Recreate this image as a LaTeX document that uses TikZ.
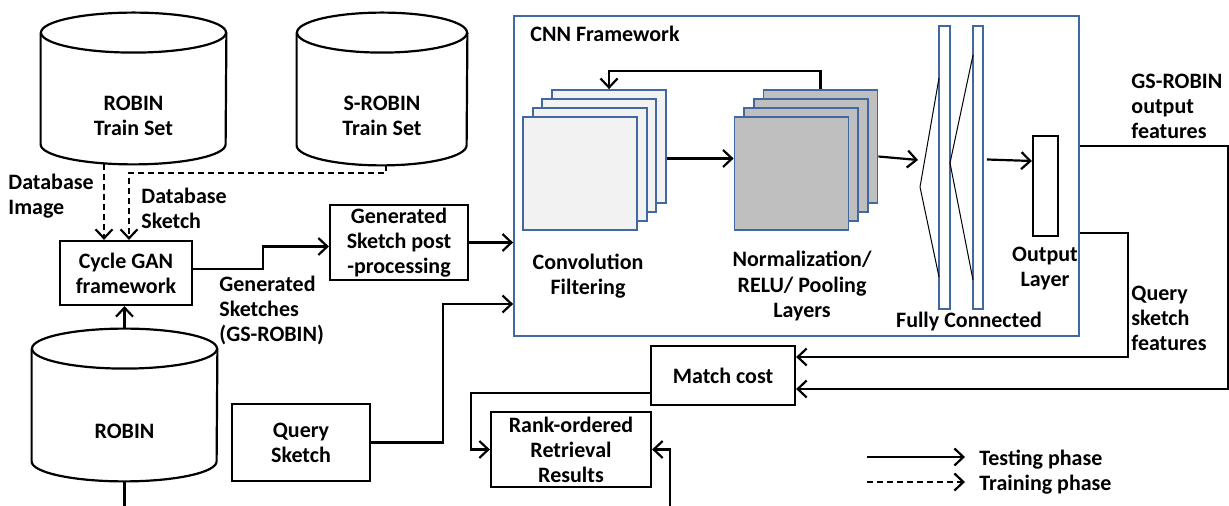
\documentclass[tikz,border=0pt]{standalone}
\usepackage{fontspec}
\setmainfont{Carlito}
\usetikzlibrary{arrows.meta}
\definecolor{cnnblue}{RGB}{65,105,160}
\definecolor{convfill}{RGB}{242,242,242}
\definecolor{normfill}{RGB}{191,191,191}
\newcommand{\dbshape}[3]{%
  \draw[wire] ([yshift=#3]#1.north west) -- ([yshift=10pt]#1.south west)
    arc[start angle=180, end angle=360, x radius=#2, y radius=10pt]
    -- ([yshift=#3]#1.north east);
  \draw[wire] ([yshift=#3]#1.north) ellipse [x radius=#2, y radius=10pt];
}

\begin{document}
\begin{tikzpicture}[x=0.5pt, y=-0.5pt, >={Straight Barb[length=4.5pt,width=8.5pt]},
  every node/.style={font=\bfseries\fontsize{11}{12.5}\selectfont, align=center},
  wire/.style={line width=1.1pt},
  arr/.style={line width=1.1pt, ->},
  dasharr/.style={arr, dash pattern=on 3pt off 2pt},
  box/.style={draw, line width=1.1pt, inner sep=0pt},
  dbtext/.style={inner sep=0pt},
  fmap/.style={draw=cnnblue, line width=0.9pt, minimum width=57pt, minimum height=56.5pt, inner sep=0pt},
  fc/.style={draw=cnnblue, line width=0.9pt, minimum height=141.5pt, inner sep=0pt},
  funnel/.style={line width=0.5pt}]
\useasboundingbox (0,0) rectangle (1229,506);

\node[dbtext, minimum width=92.5pt, minimum height=48.5pt] (robtrain) at (133.5,115.5) {ROBIN\\Train Set};
\dbshape{robtrain}{46.25pt}{17pt}
\node[dbtext, minimum width=85pt, minimum height=49.5pt] (srobtrain) at (382,115.5) {S-ROBIN\\Train Set};
\dbshape{srobtrain}{42.5pt}{16.5pt}
\node[dbtext, minimum width=92.5pt, minimum height=50pt] (robin) at (124.5,431) {ROBIN};
\dbshape{robin}{46.25pt}{16pt}

\node[box, minimum width=66pt, minimum height=32pt] (cycle) at (126,273) {Cycle GAN\\framework};
\node[box, minimum width=69pt, minimum height=37.5pt] (genpost) at (399,242.5) {Generated\\Sketch post\\-processing};
\node[box, minimum width=69pt, minimum height=38.5pt] (query) at (301,442.5) {Query\\Sketch};
\node[box, minimum width=72pt, minimum height=29.5pt] (match) at (723,375.5) {Match cost};
\node[box, minimum width=80pt, minimum height=37.5pt] (rank) at (571,449.5) {Rank-ordered\\Retrieval\\Results};

\node[anchor=west, align=left, inner sep=0pt] (dbimage) at (8,196) {Database\\Image};
\node[anchor=west, align=left, inner sep=0pt] (dbsketch) at (141,208) {Database\\Sketch};
\node[anchor=west, align=left, inner sep=0pt] (gensk) at (219,310) {Generated\\Sketches\\(GS-ROBIN)};

% CNN block
\node[draw=cnnblue, line width=0.9pt, minimum width=282.5pt, minimum height=160pt, inner sep=0pt] (cnn) at (796.5,176) {};
\node[anchor=west, inner sep=0pt] (cnntitle) at (530,34) {CNN Framework};
\foreach \i in {3,2,1,0} {
  \node[fmap, fill=convfill] (conv\i) at (580+9.67*\i, 173.5-9*\i) {};
  \node[fmap, fill=normfill] (norm\i) at (791.5+9.67*\i, 173.5-9*\i) {};
}
\node (convlab) at (588,276) {Convolution\\Filtering};
\node (normlab) at (802,286) {Normalization/\\RELU/ Pooling\\Layers};
\node[fc, minimum width=5.5pt] (fc1) at (944.5,167.5) {};
\node[fc, minimum width=5pt] (fc2) at (978,167.5) {};
\draw[funnel] (939,78) -- (920,187) -- (939,277);
\draw[funnel] (973,55) -- (950,163) -- (973,280);
\node[box, minimum width=12.5pt, minimum height=50pt] (out) at (1045.5,186) {};
\node (outlab) at (1045,269) {Output\\Layer};
\node (fclab) at (969,322) {Fully Connected};
\coordinate (fcin) at (918,160);

\draw[arr] ([yshift=-6pt]conv3.east) -- ([yshift=-6pt]conv3.east -| norm0.west);
\draw[arr] (norm3.north) -- ++(0,-18) -| (conv3.north);
\draw[arr] ([yshift=-5pt]norm3.east) -- (fcin);
\draw[arr] ([xshift=1.5pt,yshift=4pt]fc2.east) -- ([yshift=12.5pt]out.west);

\node[anchor=west, align=left, inner sep=0pt] (gsfeat) at (1131,106) {GS-ROBIN\\output\\features};
\node[anchor=west, align=left, inner sep=0pt] (qfeat) at (1131,318) {Query\\sketch\\features};

% connectors
\draw[dasharr] ([xshift=-14.75pt]robtrain.south) -- ([xshift=-14.75pt]robtrain.south |- cycle.north);
\draw[dasharr] ([xshift=2pt]srobtrain.south) -- ++(0,8) -| ([xshift=1.5pt]cycle.north);
\draw[arr] ([yshift=26pt]robin.north) -- (cycle.south -| robin.north);
\draw[arr] ([yshift=2pt]cycle.east) -- ++(70,0) |- ([yshift=-2pt]genpost.west);
\draw[arr] (genpost.east) -- (genpost.east -| cnn.west);
\draw[arr] (query.east) -- ++(72,0) |- ([yshift=-64pt]cnn.west);
\draw[arr] ([yshift=15pt]cnn.east) -- ++(148,0) |- ([yshift=-6.75pt]match.east);
\draw[arr] ([yshift=-28.5pt]cnn.east) -- ++(48,0) |- ([yshift=9.25pt]match.east);
\draw[arr] ([yshift=-8.75pt]match.west) -- ++(-179,0) |- (rank.west);
\draw[arr] (robin.south) -- ++(0,26.5) -| ([xshift=9pt]rank.east) -- (rank.east);

% legend
\node[anchor=west, inner sep=0pt] (lgtest) at (979,460) {Testing phase};
\node[anchor=west, inner sep=0pt] (lgtrain) at (979,485) {Training phase};
\draw[arr] ([xshift=-56pt,yshift=1.5pt]lgtest.west) -- ([xshift=-7pt,yshift=1.5pt]lgtest.west);
\draw[dasharr] ([xshift=-56pt,yshift=1.5pt]lgtrain.west) -- ([xshift=-7pt,yshift=1.5pt]lgtrain.west);
\end{tikzpicture}
\end{document}
